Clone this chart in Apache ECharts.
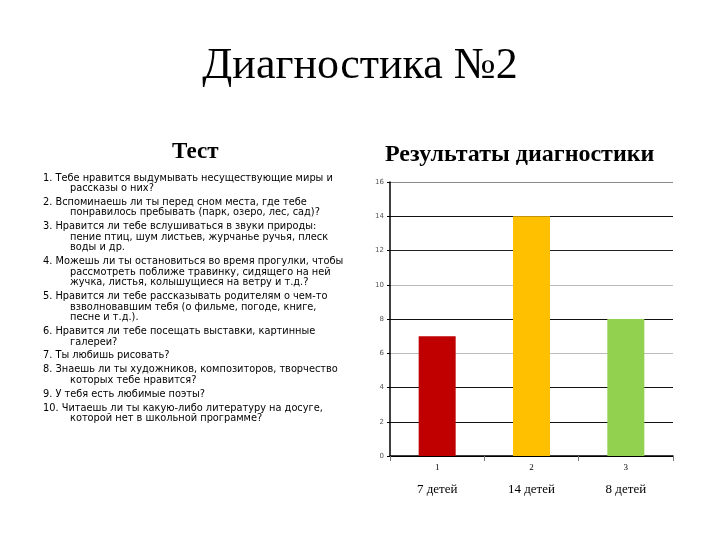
<!DOCTYPE html>
<html><head><meta charset="utf-8">
<script src="https://cdn.jsdelivr.net/npm/echarts@6/dist/echarts.min.js"></script>
<style>html,body{margin:0;padding:0;background:#fff}#c{width:720px;height:540px}</style>
</head><body><div id="c"></div>
<script>
const categories = ["1", "2", "3"];
const values = [7, 14, 8];
const childLabels = ["7 детей", "14 детей", "8 детей"];
const barColors = ["#C00000", "#FFC000", "#92D050"];
const yTicks = [0, 2, 4, 6, 8, 10, 12, 14, 16];
const questions = [
  ["1. Тебе нравится выдумывать несуществующие миры и", "рассказы о них?"],
  ["2. Вспоминаешь ли ты перед сном места, где тебе", "понравилось пребывать (парк, озеро, лес, сад)?"],
  ["3. Нравится ли тебе вслушиваться в звуки природы:", "пение птиц, шум листьев, журчанье ручья, плеск", "воды и др."],
  ["4. Можешь ли ты остановиться во время прогулки, чтобы", "рассмотреть поближе травинку, сидящего на ней", "жучка, листья, колышущиеся на ветру и т.д.?"],
  ["5. Нравится ли тебе рассказывать родителям о чем-то", "взволновавшим тебя (о фильме, погоде, книге,", "песне и т.д.)."],
  ["6. Нравится ли тебе посещать выставки, картинные", "галереи?"],
  ["7. Ты любишь рисовать?"],
  ["8. Знаешь ли ты художников, композиторов, творчество", "которых тебе нравится?"],
  ["9. У тебя есть любимые поэты?"],
  ["10. Читаешь ли ты какую-либо литературу на досуге,", "которой нет в школьной программе?"]
];

const graphics = [];
let y = 179, lh = 10.5, gap = 3.4;
questions.forEach((item) => {
  item.forEach((line, i) => {
    graphics.push({type: 'text', left: i === 0 ? 43 : 70, top: y - 6,
      style: {text: line, font: '9.8px "DejaVu Sans"', fill: '#000'}});
    y += lh;
  });
  y += gap;
});
graphics.push({type: 'text', left: 'center', top: 44,
  style: {text: 'Диагностика №2', font: '44px "Liberation Serif"', fill: '#000'}});
graphics.push({type: 'text', left: 172, top: 141,
  style: {text: 'Тест', font: 'bold 23px "Liberation Serif"', fill: '#000'}});
graphics.push({type: 'text', left: 385, top: 143,
  style: {text: 'Результаты диагностики', font: 'bold 24px "Liberation Serif"', fill: '#000'}});

const chart = echarts.init(document.getElementById('c'));
chart.setOption({
  animation: false,
  backgroundColor: '#fff',
  graphic: graphics,
  grid: {left: 390, right: 47, top: 182, bottom: 84, containLabel: false},
  xAxis: [{
    type: 'category', data: categories, position: 'bottom',
    axisLine: {lineStyle: {color: '#000', width: 1.5}},
    axisTick: {show: true, length: 5, lineStyle: {color: '#777'}},
    axisLabel: {color: '#000', fontSize: 9, fontFamily: 'Liberation Serif', margin: 7}
  }, {
    type: 'category', data: childLabels, position: 'bottom', offset: 23,
    axisLine: {show: false}, axisTick: {show: false},
    axisLabel: {color: '#000', fontSize: 13, fontFamily: 'Liberation Serif', margin: 4}
  }],
  yAxis: {
    type: 'value', min: 0, max: 16, interval: 2,
    axisLine: {show: true, lineStyle: {color: '#000', width: 1.5}},
    axisTick: {show: true, length: 3, lineStyle: {color: '#000'}},
    axisLabel: {color: '#555', fontSize: 7, fontFamily: 'DejaVu Sans', margin: 6},
    splitLine: {show: true, lineStyle: {color: ['#000','#111','#111','#bbb','#111','#bbb','#222','#111','#888'], width: 1}}
  },
  series: [{
    type: 'bar', xAxisIndex: 0, barWidth: 37,
    data: values.map((v, i) => ({value: v, itemStyle: {color: barColors[i]}}))
  }]
});
</script></body></html>
